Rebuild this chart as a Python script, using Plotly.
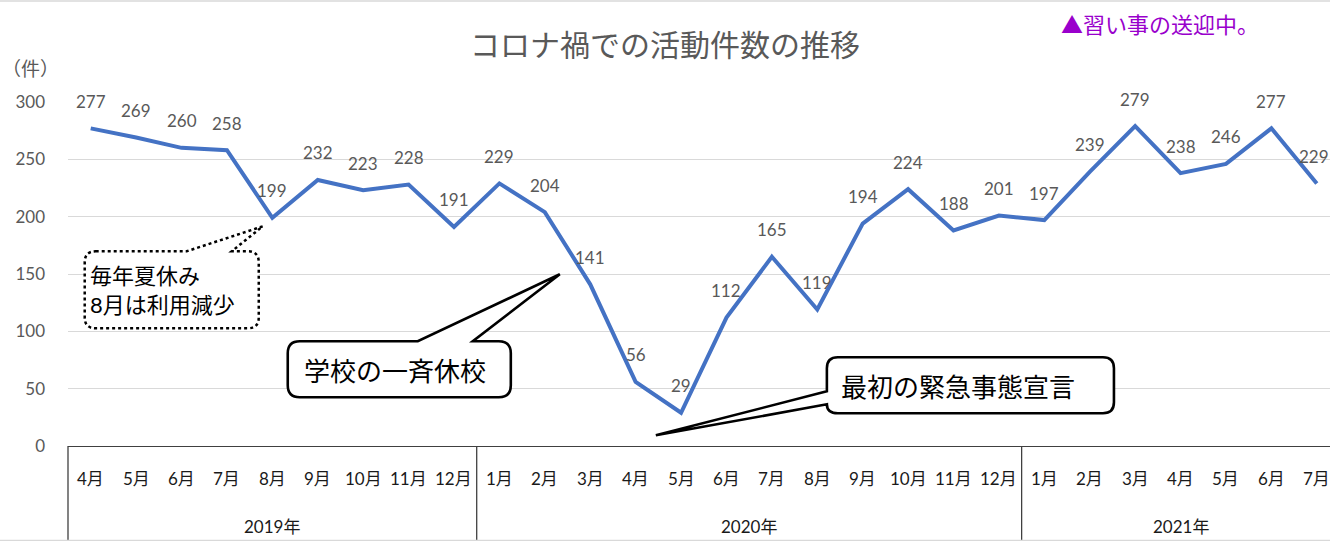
import plotly.graph_objects as go

# ---------------- data ----------------
title_text = "コロナ禍での活動件数の推移"
unit_label = "（件）"
note_text = "▲習い事の送迎中。"

year_labels = ["2019年", "2020年", "2021年"]
months_2019 = ["4月", "5月", "6月", "7月", "8月", "9月", "10月", "11月", "12月"]
months_2020 = ["1月", "2月", "3月", "4月", "5月", "6月", "7月", "8月", "9月", "10月", "11月", "12月"]
months_2021 = ["1月", "2月", "3月", "4月", "5月", "6月", "7月"]
counts_2019 = [277, 269, 260, 258, 199, 232, 223, 228, 191]
counts_2020 = [229, 204, 141, 56, 29, 112, 165, 119, 194, 224, 188, 201]
counts_2021 = [197, 239, 279, 238, 246, 277, 229]
y_ticks = [0, 50, 100, 150, 200, 250, 300]

callout_summer = ["毎年夏休み", "8月は利用減少"]
callout_school = "学校の一斉休校"
callout_emergency = "最初の緊急事態宣言"

# ---------------- build ----------------
groups = [(year_labels[0], months_2019, counts_2019),
          (year_labels[1], months_2020, counts_2020),
          (year_labels[2], months_2021, counts_2021)]
cats, month_text, values, group_spans = [], [], [], []
for yr, ms, vs in groups:
    start = len(cats)
    for m, v in zip(ms, vs):
        cats.append(yr + m)
        month_text.append(m)
        values.append(v)
    group_spans.append((yr, start, len(cats) - 1))

# layout geometry (pixels)
W, H = 1330, 541
ML, MT = 68.3, 101.7
PB = 445.7
MB = H - PB
PW = W - ML
PH = PB - MT
step = 45.4
x_hi = (PW / step) - 0.5


def px(X):
    return (X - ML) / PW


def py(Y):
    return (PB - Y) / PH


def pth(pts):
    out = []
    for cmd, coords in pts:
        if cmd == "Z":
            out.append("Z")
            continue
        s = " ".join("%.5f,%.5f" % (px(a), py(b)) for a, b in coords)
        out.append(cmd + " " + s)
    return " ".join(out)


def callout_top(L, T, R, B, r, b1, tip, b2):
    return pth([
        ("M", [(L + r, T)]), ("L", [(b1, T)]), ("L", [tip]), ("L", [(b2, T)]),
        ("L", [(R - r, T)]), ("Q", [(R, T), (R, T + r)]),
        ("L", [(R, B - r)]), ("Q", [(R, B), (R - r, B)]),
        ("L", [(L + r, B)]), ("Q", [(L, B), (L, B - r)]),
        ("L", [(L, T + r)]), ("Q", [(L, T), (L + r, T)]), ("Z", None)])


def callout_left(L, T, R, B, r, b_low, tip, b_high):
    return pth([
        ("M", [(L + r, T)]),
        ("L", [(R - r, T)]), ("Q", [(R, T), (R, T + r)]),
        ("L", [(R, B - r)]), ("Q", [(R, B), (R - r, B)]),
        ("L", [(L + r, B)]), ("Q", [(L, B), (L, b_low)]),
        ("L", [tip]), ("L", [(L, b_high)]),
        ("L", [(L, T + r)]), ("Q", [(L, T), (L + r, T)]), ("Z", None)])


LAT = "Lato, 'Noto Sans CJK JP', sans-serif"
JP = "'Noto Sans CJK JP', sans-serif"
GRAY = "#595959"

fig = go.Figure()
fig.add_trace(go.Scatter(
    x=cats, y=values, mode="lines",
    line=dict(color="#4472C4", width=4),
    hoverinfo="skip", showlegend=False))

annotations = []
# data labels
last = len(cats) - 1
for i, (c, v) in enumerate(zip(cats, values)):
    annotations.append(dict(x=c, y=v, xref="x", yref="y", text=str(v), showarrow=False,
                            yshift=27, xshift=(-3 if i == last else 0),
                            font=dict(family=LAT, size=17, color=GRAY)))
# month labels
for c, m in zip(cats, month_text):
    annotations.append(dict(x=c, y=py(478), xref="x", yref="paper", text=m, showarrow=False,
                            yanchor="middle", font=dict(family=LAT, size=17, color="#1a1a1a")))
# year labels
for yr, s, e in group_spans:
    annotations.append(dict(x=(s + e) / 2, y=py(526.5), xref="x", yref="paper", text=yr,
                            showarrow=False, yanchor="middle",
                            font=dict(family=LAT, size=17, color="#1a1a1a")))
# unit label / note
annotations.append(dict(x=0, y=py(67), xref="paper", yref="paper", text=unit_label,
                        showarrow=False, xanchor="left", yanchor="middle", xshift=-ML + 0.5,
                        font=dict(family=JP, size=19, color=GRAY)))
annotations.append(dict(x=px(1160), y=py(22.5), xref="paper", yref="paper", text=note_text,
                        showarrow=False, xanchor="center", yanchor="middle",
                        font=dict(family=JP, size=22, color="#9900CC")))
# callout texts
annotations.append(dict(x=px(88), y=py(290), xref="paper", yref="paper",
                        text="<br>".join(callout_summer), align="left",
                        showarrow=False, xanchor="left", yanchor="middle",
                        font=dict(family=LAT, size=22, color="black")))
annotations.append(dict(x=px(395), y=py(369), xref="paper", yref="paper", text=callout_school,
                        showarrow=False, xanchor="center", yanchor="middle",
                        font=dict(family=JP, size=26, color="black")))
annotations.append(dict(x=px(958), y=py(385), xref="paper", yref="paper", text=callout_emergency,
                        showarrow=False, xanchor="center", yanchor="middle",
                        font=dict(family=JP, size=26, color="black")))

shapes = []
# category axis separators
shapes.append(dict(type="line", xref="x domain", yref="paper", x0=0, x1=0, y0=0, y1=py(H),
                   line=dict(color="#404040", width=1.3)))
for yr, s, e in group_spans[:-1]:
    shapes.append(dict(type="line", xref="x", yref="paper", x0=e + 0.5, x1=e + 0.5, y0=0, y1=py(H),
                       line=dict(color="#404040", width=1.3)))
# outer chart border (top / bottom)
shapes.append(dict(type="line", xref="paper", yref="paper", x0=px(0), x1=px(W), y0=py(0.7), y1=py(0.7),
                   line=dict(color="#D9D9D9", width=1.5)))
shapes.append(dict(type="line", xref="paper", yref="paper", x0=px(0), x1=px(W), y0=py(540.3), y1=py(540.3),
                   line=dict(color="#D9D9D9", width=1.5)))
# callouts
shapes.append(dict(type="path", xref="paper", yref="paper", layer="above",
                   path=callout_top(85, 251, 259, 328, 11, 187, (263, 226), 232),
                   fillcolor="white", line=dict(color="black", width=2.5, dash="dot")))
shapes.append(dict(type="path", xref="paper", yref="paper", layer="above",
                   path=callout_top(288, 341, 511, 397, 12, 418, (560, 274), 473),
                   fillcolor="white", line=dict(color="black", width=2.6)))
shapes.append(dict(type="path", xref="paper", yref="paper", layer="above",
                   path=callout_left(827, 357, 1114, 413, 11, 404, (656, 435), 391),
                   fillcolor="white", line=dict(color="black", width=2.6)))

fig.update_layout(
    width=W, height=H,
    margin=dict(l=ML, r=0, t=MT, b=MB, pad=0),
    paper_bgcolor="white", plot_bgcolor="white",
    title=dict(text=title_text, x=0.5, xref="container", xanchor="center",
               y=1 - 45 / H, yref="container", yanchor="middle",
               font=dict(family=JP, size=30, color=GRAY)),
    xaxis=dict(type="category", categoryorder="array", categoryarray=cats,
               range=[-0.5, x_hi], showticklabels=False, showgrid=False, ticks="",
               showline=True, linecolor="#404040", linewidth=1.3, zeroline=False, fixedrange=True),
    yaxis=dict(range=[0, 300], tickvals=y_ticks, showgrid=True, gridcolor="#D9D9D9", gridwidth=1,
               zeroline=False, showline=False, ticks="", ticklabelstandoff=22,
               tickfont=dict(family=LAT, size=17, color=GRAY), fixedrange=True),
    annotations=annotations,
    shapes=shapes,
    showlegend=False,
)

fig.write_html("out.html", post_script="document.body.style.margin='0';",
               config={"displayModeBar": False})
